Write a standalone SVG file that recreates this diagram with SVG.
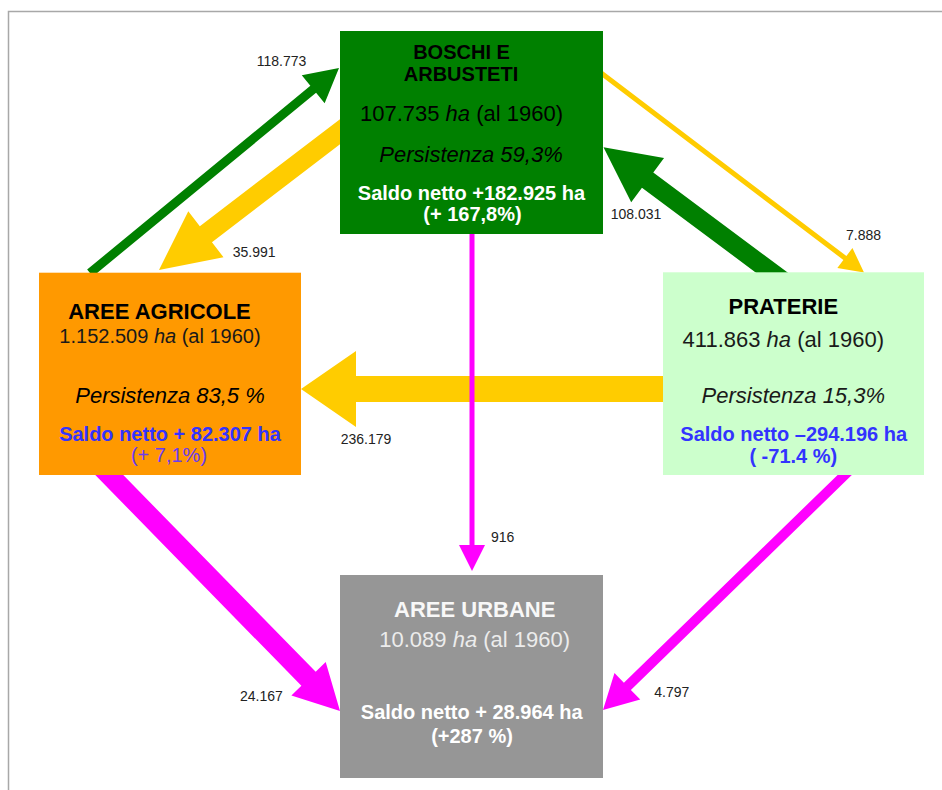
<svg xmlns="http://www.w3.org/2000/svg" width="942" height="790" viewBox="0 0 942 790">
<style>
text{font-family:"Liberation Sans",Arial,sans-serif}
.lbl{font-size:14px;fill:#222}
.t{font-size:22px;text-anchor:middle}
.b{font-weight:bold}
.s20{font-size:20px}
.i{font-style:italic}
.g{fill:#008000}
.y{fill:#FFCC00}
.m{fill:#FF00FF}
.blue{fill:#3333FF}
</style>
<rect x="0" y="0" width="942" height="790" fill="#fff"/>
<path d="M8.5 790 V11.5 H942" fill="none" stroke="#a8a8a8" stroke-width="1.5"/>
<g id="connectors">
<polygon class="g" points="92.86,276.47 316.07,92.70 324.65,103.13 339,68 301.77,75.33 310.35,85.76 87.14,269.53"/>
<polygon class="y" points="346.85,113.95 199.82,226.24 188.29,211.14 159,270 223.49,257.24 211.96,242.14 358.97,129.85"/>
<polygon class="y" points="595.39,71.69 843.38,259.98 837.33,267.94 864,272.5 852.45,248.04 846.40,256.0 598.41,67.71"/>
<polygon class="g" points="792.72,276.32 653.29,172.53 664.04,158.09 603.5,147.3 631.2,202.21 641.95,187.77 781.37,291.56"/>
<polygon class="y" points="670,376 356,376 356,351 301,389 356,427 356,402 670,402"/>
<polygon class="m" points="474.5,228 474.5,545 485,545 472,571 459,545 469.5,545 469.5,228"/>
<polygon class="m" points="92.35,471.99 301.39,685.81 291.38,695.6 340,711 325.70,662.04 315.69,671.83 106.65,458.01"/>
<polygon class="m" points="851.52,461.42 623.89,682.72 614.48,673.04 603,710 640.26,699.56 630.86,689.89 858.49,468.59"/>
<text class="lbl" x="256.7" y="66">118.773</text>
<text class="lbl" x="232.7" y="256.7">35.991</text>
<text class="lbl" x="610.7" y="219.3">108.031</text>
<text class="lbl" x="846" y="240">7.888</text>
<text class="lbl" x="340.7" y="444">236.179</text>
<text class="lbl" x="491" y="541.7">916</text>
<text class="lbl" x="240" y="700.7">24.167</text>
<text class="lbl" x="654.3" y="697.3">4.797</text>
</g>
<g id="boschi">
<rect x="340" y="31" width="263" height="203" fill="#008000"/>
<text class="t b s20" x="461.5" y="59" fill="#000">BOSCHI E</text>
<text class="t b s20" x="461" y="81" fill="#000">ARBUSTETI</text>
<text class="t" x="461.5" y="121" fill="#000">107.735 <tspan class="i">ha</tspan> (al 1960)</text>
<text class="t i" x="471" y="162" fill="#000">Persistenza 59,3%</text>
<text class="t b s20" x="471.5" y="200" fill="#fff">Saldo netto +182.925 ha</text>
<text class="t b s20" x="472.5" y="221" fill="#fff">(+ 167,8%)</text>
</g>
<g id="agricole">
<rect x="39" y="272.7" width="262" height="202.3" fill="#FF9900"/>
<text class="t b" x="159.5" y="319" fill="#000">AREE AGRICOLE</text>
<text class="t s20" x="160" y="343" fill="#1a1a1a">1.152.509 <tspan class="i">ha</tspan> (al 1960)</text>
<text class="t i" x="170" y="403" fill="#000">Persistenza 83,5 %</text>
<text class="t b s20 blue" x="170" y="440.5">Saldo netto + 82.307 ha</text>
<text class="t s20" x="169" y="462" fill="#6A3CF0">(+ 7,1%)</text>
</g>
<g id="praterie">
<rect x="663" y="272.3" width="261" height="202.7" fill="#CCFFCC"/>
<text class="t b" x="783.3" y="314" fill="#000">PRATERIE</text>
<text class="t" x="783.3" y="347" fill="#1a1a1a">411.863 <tspan class="i">ha</tspan> (al 1960)</text>
<text class="t i" x="793.3" y="403" fill="#1a1a1a">Persistenza 15,3%</text>
<text class="t b s20 blue" x="793.7" y="440.5">Saldo netto –294.196 ha</text>
<text class="t b s20 blue" x="793.3" y="462.5">( -71.4 %)</text>
</g>
<g id="urbane">
<rect x="340" y="575" width="263" height="203" fill="#969696"/>
<text class="t b" x="474.7" y="616.5" fill="#f8f8f8">AREE URBANE</text>
<text class="t" x="474.7" y="646.5" fill="#ececec">10.089 <tspan class="i">ha</tspan> (al 1960)</text>
<text class="t b s20" x="471.7" y="719" fill="#fff">Saldo netto + 28.964 ha</text>
<text class="t b s20" x="472" y="742.5" fill="#fff">(+287 %)</text>
</g>
</svg>
